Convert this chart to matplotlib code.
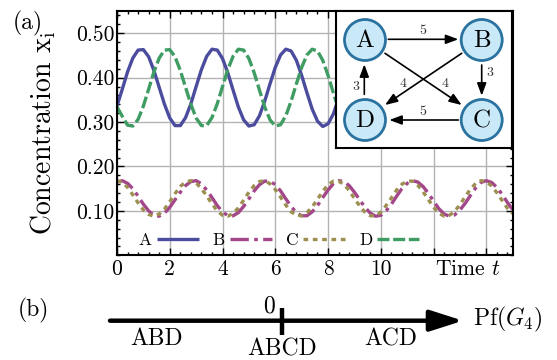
"""
Concentration oscillations of a four-species cyclic network (a)
and the Pfaffian number line of G4 (b).
"""

import numpy as np
import matplotlib
matplotlib.use("Agg")
import matplotlib.pyplot as plt
from matplotlib.patches import Circle
from matplotlib.ticker import MultipleLocator, FormatStrFormatter

plt.rcParams["font.family"] = "serif"
plt.rcParams["font.serif"] = ["cmr10"]
plt.rcParams["mathtext.fontset"] = "cm"
plt.rcParams["axes.unicode_minus"] = False
plt.rcParams["axes.formatter.use_mathtext"] = True

# --- data ------------------------------------------------------------------
# A and D are sampled every 0.2 from t = 0 to 9 (the inset hides the rest)
t_ad = np.round(np.arange(46) * 0.2, 1)
conc_a = [0.336, 0.374, 0.413, 0.444, 0.462, 0.463, 0.447, 0.416, 0.378, 0.340,
          0.309, 0.292, 0.292, 0.310, 0.341, 0.380, 0.418, 0.448, 0.464, 0.462,
          0.443, 0.411, 0.372, 0.334, 0.305, 0.291, 0.294, 0.314, 0.347, 0.386,
          0.423, 0.451, 0.464, 0.460, 0.439, 0.405, 0.366, 0.329, 0.302, 0.290,
          0.296, 0.318, 0.353, 0.392, 0.428, 0.454]
conc_d = [0.334, 0.313, 0.293, 0.291, 0.306, 0.336, 0.374, 0.413, 0.444, 0.462,
          0.463, 0.447, 0.416, 0.378, 0.340, 0.309, 0.292, 0.292, 0.310, 0.341,
          0.380, 0.418, 0.448, 0.464, 0.462, 0.443, 0.411, 0.372, 0.334, 0.305,
          0.291, 0.294, 0.314, 0.347, 0.386, 0.423, 0.451, 0.464, 0.460, 0.439,
          0.405, 0.366, 0.329, 0.302, 0.290, 0.296]

# B and C are sampled every 0.2 from t = 0 to 15
t_bc = np.round(np.arange(76) * 0.2, 1)
conc_b = [0.165, 0.168, 0.162, 0.150, 0.133, 0.115, 0.100, 0.090, 0.088, 0.095,
          0.108, 0.125, 0.142, 0.157, 0.166, 0.168, 0.161, 0.147, 0.130, 0.112,
          0.098, 0.089, 0.089, 0.096, 0.110, 0.127, 0.145, 0.159, 0.167, 0.167,
          0.159, 0.145, 0.127, 0.110, 0.096, 0.089, 0.089, 0.098, 0.112, 0.130,
          0.147, 0.161, 0.168, 0.166, 0.157, 0.142, 0.125, 0.108, 0.095, 0.088,
          0.090, 0.100, 0.115, 0.133, 0.150, 0.162, 0.168, 0.165, 0.155, 0.140,
          0.122, 0.105, 0.093, 0.088, 0.091, 0.102, 0.117, 0.135, 0.152, 0.164,
          0.168, 0.164, 0.153, 0.137, 0.119, 0.103]
conc_c = [0.168, 0.164, 0.153, 0.136, 0.118, 0.102, 0.092, 0.088, 0.093, 0.104,
          0.121, 0.139, 0.155, 0.165, 0.168, 0.163, 0.150, 0.134, 0.116, 0.100,
          0.090, 0.088, 0.094, 0.107, 0.124, 0.142, 0.157, 0.166, 0.168, 0.161,
          0.148, 0.131, 0.113, 0.098, 0.090, 0.089, 0.096, 0.109, 0.126, 0.144,
          0.159, 0.167, 0.167, 0.160, 0.146, 0.128, 0.111, 0.097, 0.089, 0.089,
          0.097, 0.112, 0.129, 0.147, 0.160, 0.167, 0.167, 0.158, 0.143, 0.126,
          0.108, 0.095, 0.088, 0.090, 0.099, 0.114, 0.132, 0.149, 0.162, 0.168,
          0.166, 0.156, 0.141, 0.123, 0.106, 0.094]

species = ["A", "B", "C", "D"]
x_ticks = [0, 2, 4, 6, 8, 10, 12, 14]
x_tick_labels = ["0", "2", "4", "6", "8", "10", "", ""]
y_ticks = [0.1, 0.2, 0.3, 0.4, 0.5]

# network inset: node centres, directed edges (from, to, weight)
node_xy = {"A": (29, 29), "B": (145.7, 29), "C": (145.7, 109), "D": (29, 109)}
edges = [("A", "B", "5"), ("B", "C", "3"), ("C", "D", "5"),
         ("D", "A", "3"), ("A", "C", "4"), ("B", "D", "4")]
edge_ends = {("A", "B"): ((52.3, 28.3), (122.3, 28.3)),
             ("B", "C"): ((145.7, 54.0), (145.7, 84.7)),
             ("C", "D"): ((122.3, 109.0), (53.3, 109.0)),
             ("D", "A"): ((28.3, 83.3), (28.3, 53.3)),
             ("A", "C"): ((49.0, 42.3), (125.7, 94.0)),
             ("B", "D"): ((125.7, 42.3), (49.0, 94.0))}
edge_label_xy = {("A", "B"): (87.3, 20.0), ("B", "C"): (154.0, 62.3),
                 ("C", "D"): (87.3, 101.3), ("D", "A"): (20.0, 75.7),
                 ("A", "C"): (109.0, 73.0), ("B", "D"): (67.3, 73.0)}

# panel (b): Pfaffian number line
pf_zero = 0.0
pf_regions = ["ABD", "ABCD", "ACD"]
pf_region_x = [-0.73, 0.0, 0.63]
pf_region_y = [-0.47, -0.74, -0.47]

colors = {"A": "#4b4c9e", "B": "#a3468a", "C": "#9c8f50", "D": "#3f9c63"}
styles = {"A": "-", "B": (0, (5.5, 1.6, 1.1, 1.6)),
          "C": (0, (1.4, 1.4)), "D": (0, (3.6, 1.1))}

fig = plt.figure(figsize=(5.57, 3.6), dpi=100)

# --- panel (a) --------------------------------------------------------------
ax = fig.add_axes([117 / 557, 1 - 255.3 / 360, 395.7 / 557, 244.3 / 360])
lines = {}
for name, t, y in [("A", t_ad, conc_a), ("B", t_bc, conc_b),
                   ("C", t_bc, conc_c), ("D", t_ad, conc_d)]:
    lines[name], = ax.plot(t, y, color=colors[name], linestyle=styles[name],
                           lw=2.4, label=name, solid_capstyle="butt")

ax.set_xlim(0, 15)
ax.set_ylim(0, 0.55)
ax.set_xticks(x_ticks)
ax.set_xticklabels(x_tick_labels)
ax.set_yticks(y_ticks)
ax.yaxis.set_major_formatter(FormatStrFormatter("%.2f"))
ax.xaxis.set_minor_locator(MultipleLocator(0.4))
ax.yaxis.set_minor_locator(MultipleLocator(0.02))
ax.tick_params(which="both", direction="in", top=True, right=True,
               labelsize=15.5, width=1.0)
ax.tick_params(which="major", length=5)
ax.tick_params(axis="x", which="major", pad=3)
ax.tick_params(axis="y", which="major", pad=2)
ax.tick_params(which="minor", length=2.5)
ax.grid(True, which="major", color="#b3b3b3", lw=1.0)
for sp in ax.spines.values():
    sp.set_linewidth(1.5)

ax.annotate("Time $t$", xy=(13.3, 0), xycoords=("data", "axes fraction"),
            xytext=(0, -3), textcoords="offset points",
            ha="center", va="top", fontsize=15.5)
fig.text(42.7 / 557, 1 - 133 / 360, r"Concentration $\mathrm{x_i}$",
         rotation=90, ha="center", va="center", fontsize=20)
fig.text(28 / 557, 1 - 23 / 360, "(a)", ha="center", va="center", fontsize=17)

ax.legend([lines[s] for s in species], species, ncol=4, markerfirst=False,
          frameon=False, fontsize=12.5, loc="center left",
          bbox_to_anchor=(0.055, 0.062), borderpad=0, borderaxespad=0,
          handlelength=2.4, handletextpad=0.3, columnspacing=0.8)

# --- network inset ----------------------------------------------------------
ins = fig.add_axes([336 / 557, 1 - 147.7 / 360, 175.7 / 557, 136.7 / 360])
ins.set_xlim(0, 175.7)
ins.set_ylim(136.7, 0)
ins.set_xticks([])
ins.set_yticks([])
for sp in ins.spines.values():
    sp.set_linewidth(1.5)

for name, (cx, cy) in node_xy.items():
    ins.add_patch(Circle((cx, cy), 20.5, facecolor="#c9e8f8",
                         edgecolor="#2a72a0", lw=2.0, zorder=3))
    ins.text(cx, cy + 1, name, ha="center", va="center", fontsize=18, zorder=4)

for src, dst, w in edges:
    start, end = edge_ends[(src, dst)]
    ins.annotate("", xy=end, xytext=start,
                 arrowprops=dict(arrowstyle="-|>,head_length=0.75,head_width=0.28",
                                 color="k", lw=1.2, shrinkA=0, shrinkB=0),
                 zorder=2)
    lx, ly = edge_label_xy[(src, dst)]
    ins.text(lx, ly, w, ha="center", va="center", fontsize=10, color="#333333")

# --- panel (b) --------------------------------------------------------------
axb = fig.add_axes([110 / 557, 0, 353 / 557, 78.6 / 360])
axb.set_xlim(-1, 1.05)
axb.set_ylim(-1, 1)
axb.axis("off")
axb.annotate("", xy=(1.05, 0), xytext=(-1, 0),
             arrowprops=dict(arrowstyle="-|>,head_length=1.0,head_width=0.32",
                             color="k", lw=3.2, shrinkA=0, shrinkB=0,
                             mutation_scale=20))
axb.plot([pf_zero, pf_zero], [-0.36, 0.32], color="k", lw=3.2,
         solid_capstyle="butt")
axb.text(pf_zero - 0.04, 0.36, "0", ha="right", va="center", fontsize=17)
for label, x, y in zip(pf_regions, pf_region_x, pf_region_y):
    axb.text(x, y, label, ha="center", va="center", fontsize=17)
axb.text(1.11, 0.02, r"Pf$(G_4)$", ha="left", va="center", fontsize=17)
fig.text(33 / 557, 1 - 310 / 360, "(b)", ha="center", va="center", fontsize=17)

fig.savefig("out.png", dpi=100)
plt.close(fig)
